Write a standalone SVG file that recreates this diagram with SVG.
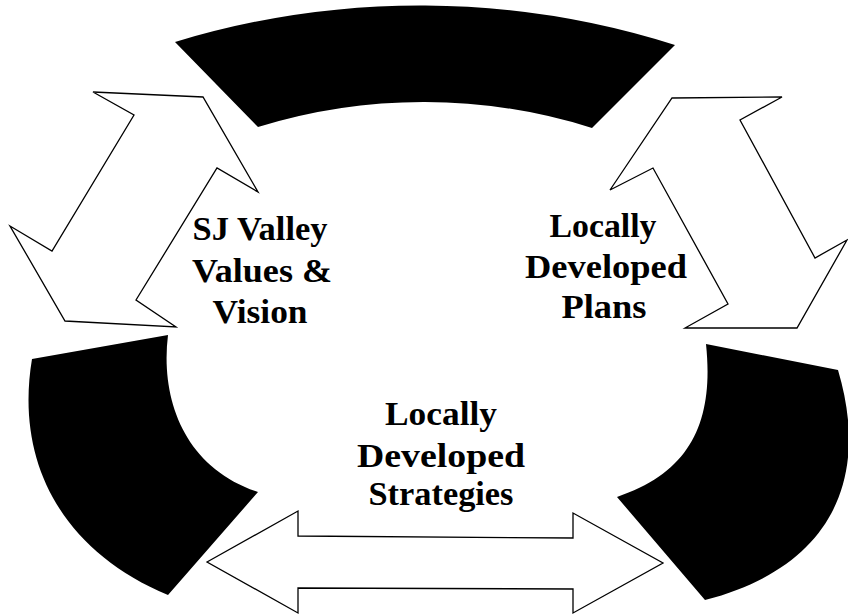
<svg xmlns="http://www.w3.org/2000/svg" width="848" height="615" viewBox="0 0 848 615">
<style>
.blk{fill:#000;stroke:none}
.hol{fill:#fff;stroke:#000;stroke-width:1.3;stroke-linejoin:miter}
.t{font-family:"Liberation Serif","Times New Roman",serif;font-weight:bold;font-size:34px;fill:#000;text-anchor:middle}
</style>
<rect width="848" height="615" fill="#fff"/>
<g id="arc-top"><path class="blk" d="M175,42 A841,841 0 0 1 675,45 L592,128 A559,559 0 0 0 258,127 Z"/></g>
<g id="arc-left"><path class="blk" d="M32,359 L168,335 C160,400 185,468 258,492 L168,595 C60,550 15,460 32,359 Z"/></g>
<g id="arc-right"><path class="blk" d="M706,344 L838,370 C868,470 840,565 705,600 L617,497 C692,472 714,420 706,344 Z"/></g>
<g id="connectors">
<polygon class="hol" points="93,92 203,97 258,192 217,168 136,300 176,327 65,321 10,226 52,251 134,115"/>
<polygon class="hol" points="672,98 782,97 740,120 815,258 847,240 797,328 685,328 728,304 653,168 610,190"/>
<polygon class="hol" points="207,562 298,511 298,536 573,538 573,513 663,563 573,613 573,589 298,588 298,613"/>
</g>
<g id="node-values">
<text class="t" x="260" y="240" textLength="135" lengthAdjust="spacingAndGlyphs">SJ Valley</text>
<text class="t" x="262" y="282" textLength="140" lengthAdjust="spacingAndGlyphs">Values &amp;</text>
<text class="t" x="260" y="323" textLength="95" lengthAdjust="spacingAndGlyphs">Vision</text>
</g>
<g id="node-plans">
<text class="t" x="603" y="237" textLength="107" lengthAdjust="spacingAndGlyphs">Locally</text>
<text class="t" x="606" y="278" textLength="162" lengthAdjust="spacingAndGlyphs">Developed</text>
<text class="t" x="604" y="318" textLength="85" lengthAdjust="spacingAndGlyphs">Plans</text>
</g>
<g id="node-strategies">
<text class="t" x="441" y="425" textLength="112" lengthAdjust="spacingAndGlyphs">Locally</text>
<text class="t" x="441" y="467" textLength="168" lengthAdjust="spacingAndGlyphs">Developed</text>
<text class="t" x="441" y="505" textLength="145" lengthAdjust="spacingAndGlyphs">Strategies</text>
</g>
</svg>
